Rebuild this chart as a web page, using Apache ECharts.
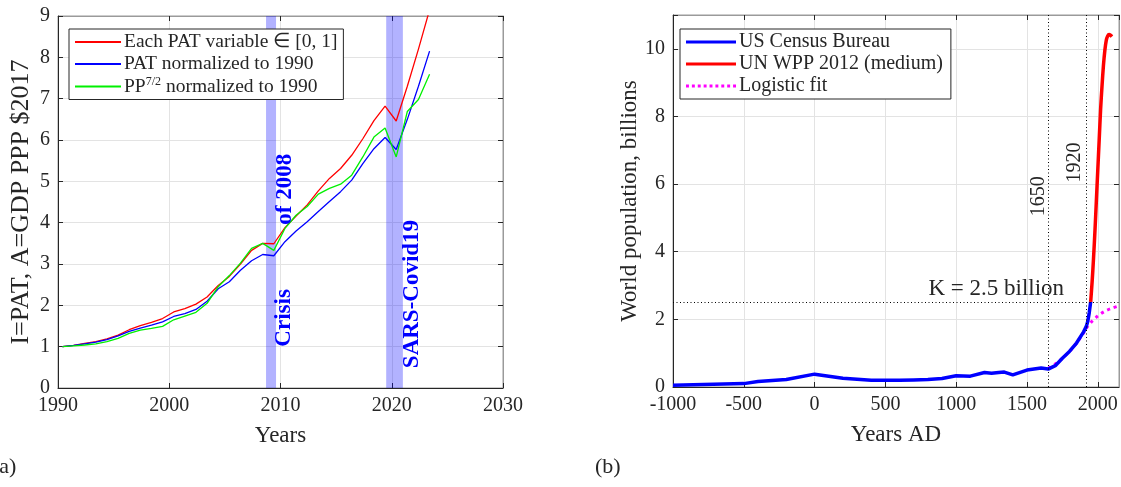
<!DOCTYPE html>
<html>
<head>
<meta charset="utf-8">
<script src="https://cdn.jsdelivr.net/npm/echarts@6/dist/echarts.min.js"></script>
<style>html,body{margin:0;padding:0;background:#fff}#c{width:1121px;height:487px}</style>
</head>
<body>
<div id="c"></div>
<script>
// ---------- Panel (a) data ----------
const yearsA = [1990.4,1991.4,1992.4,1993.4,1994.4,1995.4,1996.4,1997.4,1998.4,1999.4,
  2000.4,2001.4,2002.4,2003.4,2004.4,2005.4,2006.4,2007.4,2008.4,2009.4,
  2010.4,2011.4,2012.4,2013.4,2014.4,2015.4,2016.4,2017.4,2018.4,2019.4,
  2020.4,2021.4,2022.4,2023.4];
const eachPAT = [1.0,1.03,1.08,1.12,1.19,1.28,1.41,1.51,1.59,1.68,
  1.84,1.92,2.03,2.2,2.48,2.7,3.0,3.33,3.5,3.49,
  3.88,4.16,4.43,4.77,5.07,5.31,5.63,6.03,6.47,6.82,
  6.46,7.3,8.2,9.15];
const patNorm = [1.0,1.03,1.07,1.11,1.17,1.26,1.37,1.45,1.52,1.6,
  1.73,1.8,1.9,2.1,2.4,2.57,2.85,3.08,3.23,3.2,
  3.54,3.8,4.02,4.27,4.51,4.75,5.03,5.43,5.79,6.06,
  5.77,6.5,7.3,8.15];
const ppNorm = [1.0,1.02,1.04,1.07,1.12,1.2,1.32,1.4,1.44,1.49,
  1.65,1.74,1.83,2.05,2.45,2.72,3.02,3.38,3.5,3.33,
  3.86,4.18,4.39,4.69,4.83,4.93,5.15,5.59,6.07,6.29,
  5.59,6.69,6.98,7.59];
const crisisBand = [2008.7, 2009.6];
const covidBand = [2019.5, 2021.0];

// ---------- Panel (b) data ----------
const censusYears = [-1000,-500,-400,-200,0,200,400,500,600,700,800,900,1000,1100,1200,1250,1300,1340,1400,1500,1600,1650,1700,1750,1800,1850,1900,1920,1930,1940,1950];
const censusPop   = [0.05,0.1,0.16,0.22,0.38,0.26,0.2,0.2,0.2,0.21,0.22,0.25,0.33,0.32,0.43,0.41,0.43,0.44,0.36,0.5,0.56,0.53,0.63,0.85,1.05,1.3,1.63,1.8,1.95,2.2,2.52];
const wppYears = [1950,1960,1970,1980,1990,2000,2010,2020,2030,2040,2050,2060,2070,2080,2090,2100];
const wppPop   = [2.52,3.1,3.8,4.6,5.5,6.4,7.3,8.2,8.9,9.5,9.95,10.25,10.38,10.42,10.4,10.36];
const fitYears = [1650,1700,1750,1800,1850,1900,1920,1950,2000,2050,2100,2150];
const fitPop   = [0.55,0.68,0.85,1.05,1.3,1.6,1.74,1.9,2.1,2.24,2.33,2.4];
const markYears = [1650, 1920];
const K = 2.5;

const zip = (xs, ys) => xs.map((x, i) => [x, ys[i]]);
const FONT = 'Liberation Serif';
const txt = '#262626';
const gridCol = '#e3e3e3';
const plain = v => String(v);

function axisCommon(extra, labelExtra, nameSize) {
  return Object.assign({
    type: 'value',
    axisLine: { show: true, onZero: false, lineStyle: { color: txt, width: 1 } },
    axisTick: { show: true, inside: true, length: 5, lineStyle: { color: txt } },
    axisLabel: Object.assign({ color: txt, fontFamily: FONT, fontSize: 20, margin: 8, formatter: plain }, labelExtra || {}),
    splitLine: { show: true, lineStyle: { color: gridCol, width: 1 } },
    nameTextStyle: { color: txt, fontFamily: FONT, fontSize: nameSize || 23 },
    nameLocation: 'middle'
  }, extra);
}
function mirror(extra) {
  return Object.assign({
    type: 'value',
    axisLine: { show: true, onZero: false, lineStyle: { color: '#9a9a9a', width: 1 } },
    axisTick: { show: true, inside: true, length: 5, lineStyle: { color: txt } },
    axisLabel: { show: false },
    splitLine: { show: false }
  }, extra);
}

const dashIcon = 'path://M0,0h3v3h-3z M6,0h3v3h-3z M12,0h3v3h-3z M18,0h3v3h-3z M24,0h3v3h-3z M30,0h3v3h-3z M36,0h3v3h-3z M42,0h3v3h-3z M48,0h3v3h-3z';

const chart = echarts.init(document.getElementById('c'), null, { renderer: 'canvas' });
const option = {
  animation: false,
  backgroundColor: '#fff',
  grid: [
    { left: 58, top: 16, width: 445, height: 372, show: true, borderColor: '#9a9a9a', borderWidth: 1 },
    { left: 673, top: 15, right: 2, height: 372, show: true, borderColor: '#9a9a9a', borderWidth: 1 }
  ],
  xAxis: [
    axisCommon({ gridIndex: 0, min: 1990, max: 2030, interval: 10, name: 'Years', nameGap: 36 }, null, 23),
    axisCommon({ gridIndex: 1, min: -1000, max: 2150, interval: 500, name: 'Years AD', nameGap: 36 },
      { showMaxLabel: false }, 23),
    mirror({ gridIndex: 0, position: 'top', min: 1990, max: 2030, interval: 10 }),
    mirror({ gridIndex: 1, position: 'top', min: -1000, max: 2150, interval: 500 })
  ],
  yAxis: [
    axisCommon({ gridIndex: 0, min: 0, max: 9, interval: 1, name: 'I=PAT, A=GDP PPP $2017', nameGap: 24 }, null, 26),
    axisCommon({ gridIndex: 1, min: 0, max: 11, interval: 2, name: 'World population, billions', nameGap: 31 },
      { formatter: v => (v > 10 ? '' : String(v)) }, 23),
    mirror({ gridIndex: 0, position: 'right', min: 0, max: 9, interval: 1 }),
    mirror({ gridIndex: 1, position: 'right', min: 0, max: 11, interval: 2 })
  ],
  legend: [
    {
      left: 69, top: 29, orient: 'vertical', itemGap: 2, itemWidth: 46, itemHeight: 2,
      backgroundColor: '#fff', borderColor: txt, borderWidth: 1, padding: [3, 6, 3, 6],
      data: [
        { name: 'Each PAT variable ∈ [0, 1]', icon: 'rect' },
        { name: 'PAT normalized to 1990', icon: 'rect' },
        { name: 'PP7/2 normalized to 1990', icon: 'rect' }
      ],
      formatter: function (n) { return n === 'PP7/2 normalized to 1990' ? 'PP{sup|7/2} normalized to 1990' : n; },
      textStyle: { color: txt, fontFamily: FONT, fontSize: 19.5, padding: [0, 0, 0, -2],
        rich: { sup: { fontFamily: FONT, fontSize: 12, verticalAlign: 'top', padding: [0, 0, 9, 0], color: txt } } }
    },
    {
      left: 680, top: 29, orient: 'vertical', itemGap: 2, itemWidth: 50, itemHeight: 3,
      backgroundColor: '#fff', borderColor: txt, borderWidth: 1, padding: [3, 8, 3, 6],
      data: [
        { name: 'US Census Bureau', icon: 'rect' },
        { name: 'UN WPP 2012 (medium)', icon: 'rect' },
        { name: 'Logistic fit', icon: dashIcon }
      ],
      textStyle: { color: txt, fontFamily: FONT, fontSize: 20, padding: [0, 0, 0, -2] }
    }
  ],
  series: [
    { name: 'Each PAT variable ∈ [0, 1]', type: 'line', xAxisIndex: 0, yAxisIndex: 0, data: zip(yearsA, eachPAT),
      showSymbol: false, clip: true, color: '#ff0000', lineStyle: { width: 1.3, color: '#ff0000' }, z: 3 },
    { name: 'PAT normalized to 1990', type: 'line', xAxisIndex: 0, yAxisIndex: 0, data: zip(yearsA, patNorm),
      showSymbol: false, clip: true, color: '#0000ff', lineStyle: { width: 1.3, color: '#0000ff' }, z: 3 },
    { name: 'PP7/2 normalized to 1990', type: 'line', xAxisIndex: 0, yAxisIndex: 0, data: zip(yearsA, ppNorm),
      showSymbol: false, clip: true, color: '#00f000', lineStyle: { width: 1.3, color: '#00f000' }, z: 3 },
    { name: 'bands', type: 'line', xAxisIndex: 0, yAxisIndex: 0, data: [], z: 6, silent: true,
      markArea: { silent: true, itemStyle: { color: 'rgba(0,0,255,0.3)' },
        data: [[{ xAxis: crisisBand[0] }, { xAxis: crisisBand[1] }], [{ xAxis: covidBand[0] }, { xAxis: covidBand[1] }]] } },

    { name: 'Logistic fit', type: 'line', xAxisIndex: 1, yAxisIndex: 1, data: zip(fitYears, fitPop),
      showSymbol: false, smooth: 0.3, clip: true, color: '#ff00ff',
      lineStyle: { width: 3, color: '#ff00ff', type: [3, 4] }, z: 2 },
    { name: 'US Census Bureau', type: 'line', xAxisIndex: 1, yAxisIndex: 1, data: zip(censusYears, censusPop),
      showSymbol: false, clip: true, color: '#0000ff', lineStyle: { width: 3.5, color: '#0000ff' }, z: 4 },
    { name: 'UN WPP 2012 (medium)', type: 'line', xAxisIndex: 1, yAxisIndex: 1, data: zip(wppYears, wppPop),
      showSymbol: false, smooth: 0.3, clip: true, color: '#ff0000', lineStyle: { width: 3.5, color: '#ff0000' }, z: 4 },
    { name: 'refs', type: 'line', xAxisIndex: 1, yAxisIndex: 1, data: [], z: 3, silent: true,
      markLine: { silent: true, symbol: 'none', label: { show: false },
        lineStyle: { color: '#000', width: 1, type: [1, 2.5] },
        data: [{ xAxis: markYears[0] }, { xAxis: markYears[1] }, { yAxis: K }] } }
  ]
};
chart.setOption(option);

// Text annotations anchored at data coordinates
function px(gi, x, y) { return chart.convertToPixel({ gridIndex: gi }, [x, y]); }
const rot = Math.PI / 2;
const pCrisis = px(0, 2010.3, 1.0);
const pOf = px(0, 2010.4, 3.95);
const pCovid = px(0, 2021.8, 0.48);
const p1650 = px(1, markYears[0] - 65, 5.05);
const p1920 = px(1, markYears[1] - 80, 6.05);
const pK = px(1, 1762, K);
const blueText = { fill: '#0000ff', fontFamily: FONT, fontSize: 23, fontWeight: 'bold', align: 'left', verticalAlign: 'middle' };
const blackRot = { fill: txt, fontFamily: FONT, fontSize: 20, align: 'left', verticalAlign: 'middle' };
chart.setOption({
  graphic: [
    { type: 'text', x: pCrisis[0], y: pCrisis[1], rotation: rot, z: 100, style: Object.assign({ text: 'Crisis' }, blueText) },
    { type: 'text', x: pOf[0], y: pOf[1], rotation: rot, z: 100, style: Object.assign({ text: 'of 2008' }, blueText) },
    { type: 'text', x: pCovid[0], y: pCovid[1], rotation: rot, z: 100, style: Object.assign({ text: 'SARS-Covid19' }, blueText) },
    { type: 'text', x: p1650[0], y: p1650[1], rotation: rot, z: 100, style: Object.assign({ text: '1650' }, blackRot) },
    { type: 'text', x: p1920[0], y: p1920[1], rotation: rot, z: 100, style: Object.assign({ text: '1920' }, blackRot) },
    { type: 'text', x: pK[0], y: pK[1] - 14, z: 100, style: { text: 'K = 2.5 billion', fill: txt, fontFamily: FONT, fontSize: 23, align: 'right', verticalAlign: 'middle' } },
    { type: 'text', x: -8, y: 467, z: 100, style: { text: '(a)', fill: txt, fontFamily: FONT, fontSize: 22, align: 'left', verticalAlign: 'middle' } },
    { type: 'text', x: 595, y: 467, z: 100, style: { text: '(b)', fill: txt, fontFamily: FONT, fontSize: 22, align: 'left', verticalAlign: 'middle' } }
  ]
});
</script>
</body>
</html>
